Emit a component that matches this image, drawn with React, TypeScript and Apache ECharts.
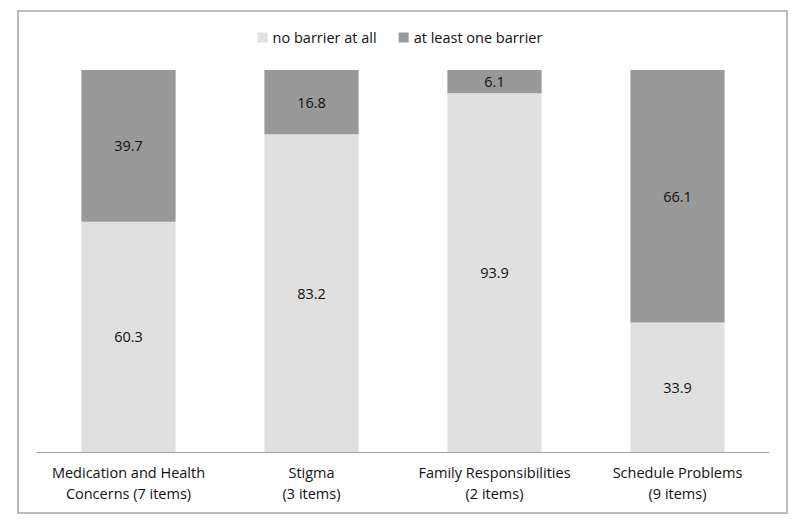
import React, { useEffect, useRef } from "react";
import * as echarts from "echarts";

const categories = [
  "Medication and Health\nConcerns (7 items)",
  "Stigma\n(3 items)",
  "Family Responsibilities\n(2 items)",
  "Schedule Problems\n(9 items)",
];
const noBarrier = [60.3, 83.2, 93.9, 33.9];
const atLeastOne = [39.7, 16.8, 6.1, 66.1];
const seriesNames = ["no barrier at all", "at least one barrier"];

const FONT = "'Open Sans', 'Liberation Sans', sans-serif";

export default function App() {
  const ref = useRef<HTMLDivElement>(null);
  useEffect(() => {
    if (!ref.current) return;
    const chart = echarts.init(ref.current, null, { renderer: "svg" });
    const label = {
      show: true,
      position: "inside",
      color: "#111111",
      fontSize: 14.5,
      fontFamily: FONT,
      formatter: (p: any) => Number(p.value).toFixed(1),
    };
    chart.setOption({
      animation: false,
      backgroundColor: "#ffffff",
      textStyle: { fontFamily: FONT },
      graphic: [
        {
          type: "rect",
          shape: { x: 18, y: 11, width: 769, height: 502 },
          style: { fill: "none", stroke: "#a6a6a6", lineWidth: 1.5 },
          silent: true,
        },
      ],
      legend: {
        top: 25,
        left: "center",
        itemWidth: 10,
        itemHeight: 10,
        itemGap: 22,
        icon: "rect",
        textStyle: { fontSize: 14.5, color: "#111111", fontFamily: FONT },
        data: seriesNames,
      },
      grid: { left: 37, right: 31, top: 70, bottom: 75 },
      xAxis: {
        type: "category",
        data: categories,
        axisLine: { lineStyle: { color: "#a6a6a6", width: 1 } },
        axisTick: { show: false },
        axisLabel: {
          color: "#111111",
          fontSize: 14.5,
          lineHeight: 21,
          margin: 10,
          fontFamily: FONT,
          interval: 0,
        },
      },
      yAxis: {
        type: "value",
        min: 0,
        max: 100,
        show: false,
        splitLine: { show: false },
      },
      series: [
        {
          name: seriesNames[0],
          type: "bar",
          stack: "total",
          barWidth: "51.5%",
          data: noBarrier,
          itemStyle: { color: "#e0e0e0" },
          label,
        },
        {
          name: seriesNames[1],
          type: "bar",
          stack: "total",
          barWidth: "51.5%",
          data: atLeastOne,
          itemStyle: { color: "#999999" },
          label,
        },
      ],
    });
    return () => chart.dispose();
  }, []);
  return (
    <div
      ref={ref}
      style={{ position: "fixed", left: 0, top: 0, width: 800, height: 527 }}
    />
  );
}
